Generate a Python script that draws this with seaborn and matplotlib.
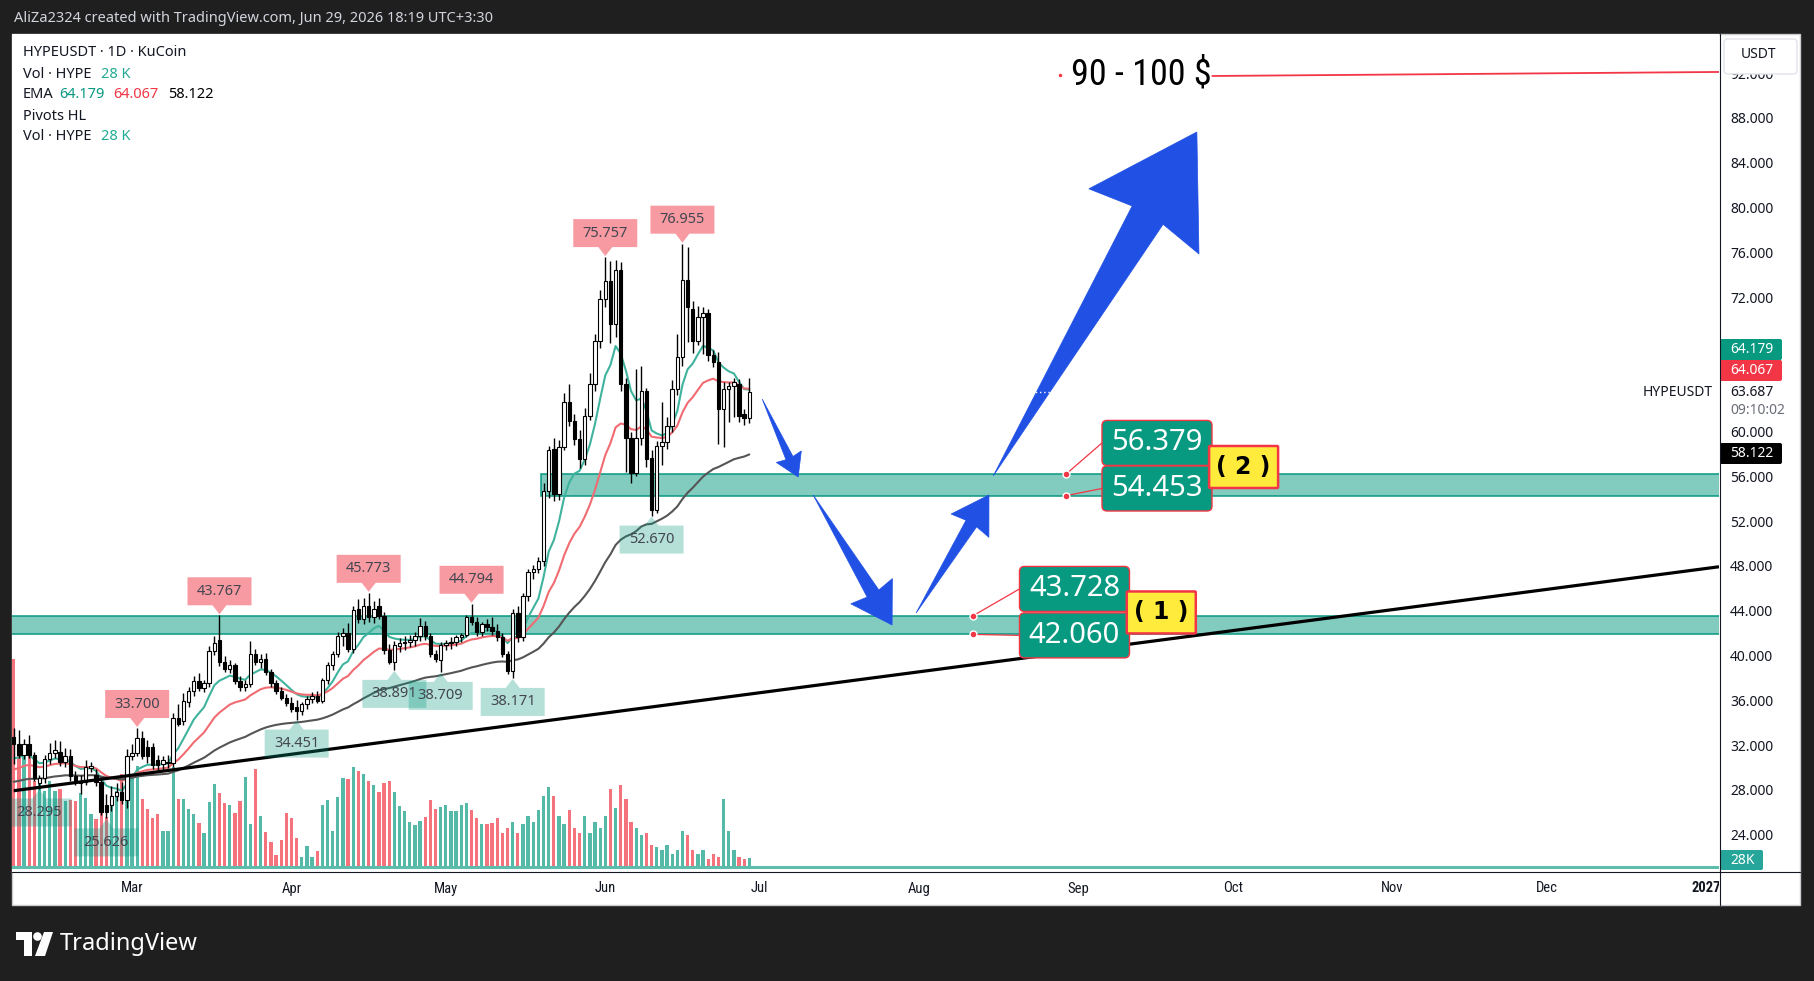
import numpy as np
import pandas as pd
import matplotlib
matplotlib.use("Agg")
import matplotlib.pyplot as plt
import matplotlib.dates as mdates
from matplotlib.patches import Polygon, FancyBboxPatch, Rectangle, Circle
from matplotlib.lines import Line2D
from matplotlib.transforms import IdentityTransform
from matplotlib import font_manager as fm
import seaborn as sns

# ============================ data ============================
first_day = "2026-02-06"

opens = [
    32.9, 32.3, 31.3, 32.3, 31.3, 28.8, 29.2, 30.9, 31.5, 31.6,
    30.7, 31.2, 29.4, 28.8, 28.9, 30.1, 29.5, 28.9, 26.8, 26.8,
    27.6, 28.0, 27.3, 31.2, 31.5, 32.8, 32.0, 32.0, 30.8, 30.5,
    30.6, 30.6, 34.6, 34.3, 36.0, 37.0, 37.9, 37.3, 37.7, 40.6,
    41.6, 39.6, 39.0, 39.3, 37.9, 37.4, 37.6, 40.3, 39.6, 39.9,
    38.7, 37.7, 37.0, 36.4, 35.9, 35.6, 35.2, 35.8, 36.3, 36.6,
    36.1, 38.0, 39.3, 40.3, 41.9, 42.2, 40.8, 44.3, 43.4, 44.6,
    43.6, 44.6, 43.7, 40.7, 39.6, 41.0, 41.3, 41.4, 41.6, 41.9,
    42.8, 41.9, 40.3, 39.8, 41.1, 41.3, 41.4, 41.8, 42.0, 43.6,
    43.2, 42.3, 43.0, 42.7, 42.4, 41.8, 40.3, 38.8, 44.0, 41.8,
    45.5, 47.6, 47.9, 48.6, 54.9, 58.6, 54.6, 58.8, 62.8, 61.1,
    59.5, 57.7, 61.6, 64.4, 68.3, 72.0, 73.6, 69.8, 74.6, 64.4,
    59.6, 56.5, 59.6, 63.8, 57.8, 53.2, 58.9, 59.2, 60.7, 64.0,
    66.8, 73.7, 71.1, 68.3, 70.4, 70.8, 67.0, 66.4, 62.2, 64.0,
    64.2, 64.4, 61.7, 61.4,
]
highs = [
    33.7, 33.5, 32.7, 33.1, 31.6, 29.5, 31.3, 32.4, 32.6, 32.5,
    31.9, 31.8, 29.9, 29.5, 30.8, 30.7, 30.0, 29.3, 27.8, 28.5,
    28.8, 28.9, 31.8, 32.3, 33.7, 33.4, 32.6, 32.4, 31.3, 31.2,
    31.3, 35.0, 35.8, 36.8, 37.4, 38.3, 38.6, 38.0, 41.0, 41.9,
    43.767, 40.1, 39.8, 39.5, 38.3, 38.0, 41.5, 40.8, 40.3, 40.4,
    39.0, 38.0, 37.4, 36.7, 36.5, 36.2, 36.0, 36.6, 36.9, 37.0,
    38.2, 39.6, 40.6, 42.3, 42.6, 43.1, 44.6, 45.2, 45.3, 45.773,
    45.0, 45.3, 44.1, 41.2, 41.5, 41.7, 41.9, 42.0, 42.3, 43.5,
    43.3, 42.2, 40.7, 41.4, 41.6, 41.8, 42.0, 42.2, 43.8, 44.794,
    43.6, 43.2, 43.4, 43.6, 43.0, 42.2, 40.6, 44.3, 44.6, 45.8,
    47.9, 48.3, 49.0, 55.6, 58.9, 59.6, 59.4, 63.6, 64.4, 61.7,
    60.3, 62.3, 65.4, 68.9, 72.8, 75.757, 75.4, 75.5, 75.3, 65.0,
    60.1, 65.8, 66.0, 64.1, 58.5, 59.3, 62.8, 61.5, 64.8, 68.9,
    76.955, 76.7, 71.8, 71.4, 71.3, 71.1, 67.5, 67.3, 64.6, 64.6,
    65.0, 64.9, 62.2, 65.0,
]
lows = [
    30.5, 31.0, 30.9, 31.0, 29.0, 28.295, 28.8, 30.5, 31.0, 30.3,
    30.2, 29.0, 28.6, 27.8, 28.6, 29.8, 28.5, 25.9, 25.626, 26.3,
    27.2, 26.9, 26.6, 30.8, 31.2, 30.9, 30.6, 30.0, 29.8, 29.9,
    30.1, 30.2, 33.9, 34.0, 35.6, 36.6, 37.0, 36.9, 37.4, 40.2,
    39.2, 38.7, 38.6, 37.6, 37.0, 37.0, 37.4, 39.3, 39.1, 38.4,
    37.4, 36.7, 36.2, 35.7, 35.1, 34.451, 34.9, 35.4, 35.9, 35.9,
    35.9, 37.6, 38.9, 40.0, 41.0, 40.5, 40.4, 43.1, 43.0, 43.2,
    43.1, 43.4, 40.3, 39.4, 38.891, 40.5, 40.7, 40.9, 41.0, 41.5,
    41.6, 40.0, 39.6, 38.709, 40.7, 40.8, 41.0, 41.4, 41.8, 42.9,
    41.9, 41.9, 42.4, 42.0, 41.5, 40.0, 38.5, 38.171, 41.4, 41.5,
    45.0, 47.0, 47.5, 48.2, 54.2, 54.0, 54.1, 58.5, 60.7, 59.0,
    56.9, 57.2, 61.2, 63.8, 67.6, 71.3, 68.1, 68.6, 63.8, 56.6,
    55.6, 56.2, 59.0, 57.0, 52.67, 52.9, 57.2, 58.6, 60.1, 63.4,
    66.0, 68.2, 67.2, 67.9, 67.1, 66.5, 65.9, 59.1, 58.8, 61.0,
    61.5, 61.0, 60.8, 60.9,
]
closes = [
    32.3, 31.3, 32.3, 31.3, 29.2, 29.2, 30.9, 31.5, 31.7, 30.7,
    31.2, 29.4, 28.9, 29.0, 30.2, 30.3, 28.9, 26.2, 26.2, 27.6,
    28.0, 27.3, 31.2, 31.5, 32.8, 31.2, 31.2, 30.4, 30.4, 30.8,
    30.7, 34.6, 34.1, 36.1, 37.0, 37.9, 37.3, 37.7, 40.6, 41.3,
    39.6, 39.0, 39.3, 37.9, 37.4, 37.6, 40.3, 39.6, 39.9, 38.7,
    37.7, 37.0, 36.4, 35.9, 35.4, 35.2, 35.8, 36.3, 36.6, 36.1,
    38.0, 39.3, 40.3, 41.9, 42.2, 40.8, 44.2, 43.4, 44.6, 43.6,
    44.3, 43.7, 40.7, 39.6, 41.1, 41.3, 41.4, 41.6, 41.9, 42.8,
    41.9, 40.3, 39.9, 41.1, 41.3, 41.4, 41.8, 42.0, 43.6, 43.2,
    42.3, 43.0, 42.7, 42.4, 41.8, 40.3, 38.8, 44.0, 41.8, 45.5,
    47.6, 47.9, 48.6, 54.9, 58.5, 54.6, 58.8, 62.8, 61.1, 59.5,
    57.7, 61.6, 64.4, 68.3, 72.0, 73.6, 69.8, 74.6, 64.4, 59.6,
    56.5, 59.6, 63.8, 57.7, 53.2, 58.9, 59.2, 60.7, 64.0, 66.8,
    73.7, 71.3, 68.3, 70.4, 70.8, 67.0, 66.4, 62.2, 64.0, 64.2,
    64.6, 61.6, 61.4, 63.687,
]
volumes_k = [
    584, 342, 319, 328, 244, 235, 216, 244, 216, 221,
    188, 190, 188, 209, 196, 151, 137, 165, 142, 193,
    216, 263, 198, 254, 286, 193, 165, 139, 151, 104,
    103, 282, 193, 193, 165, 151, 126, 97, 186, 234,
    209, 183, 176, 153, 188, 254, 123, 276, 145, 101,
    73, 35, 77, 153, 139, 83, 32, 61, 32, 47,
    176, 191, 103, 198, 252, 249, 282, 272, 262, 243,
    233, 212, 237, 243, 212, 173, 160, 128, 120, 132,
    142, 191, 165, 170, 177, 160, 160, 176, 183, 163,
    140, 123, 123, 127, 139, 97, 113, 130, 97, 123,
    146, 130, 162, 201, 227, 201, 146, 123, 162, 113,
    97, 146, 97, 130, 113, 146, 220, 168, 233, 194,
    130, 113, 91, 97, 65, 58, 49, 65, 39, 49,
    104, 91, 49, 39, 49, 26, 39, 32, 194, 104,
    49, 32, 26, 28,
]

ema_lengths = [9, 21, 60]
ema_seed = [31.0, 30.0, 28.9]           # EMA values read at the first visible candle
ema_colors = ["#3fb39d", "#f06c72", "#555555"]
ema_legend_values = ["64.179", "64.067", "58.122"]

pivot_high_dates = ["2026-03-02", "2026-03-18", "2026-04-16", "2026-05-06", "2026-06-01", "2026-06-16"]
pivot_high_values = [33.700, 43.767, 45.773, 44.794, 75.757, 76.955]
pivot_low_dates = ["2026-02-11", "2026-02-24", "2026-04-02", "2026-04-21", "2026-04-30", "2026-05-14", "2026-06-10"]
pivot_low_values = [28.295, 25.626, 34.451, 38.891, 38.709, 38.171, 52.670]

zone_lower = [42.060, 43.728]
zone_upper = [54.453, 56.379]
zone_upper_start = "2026-05-19 10:00"

trend_dates = ["2026-02-06", "2027-01-03 12:00"]
trend_prices = [28.1, 48.1]

arrow_tail_dates = ["2026-07-01 12:00", "2026-07-11 10:00", "2026-07-31 10:00", "2026-08-15 10:00"]
arrow_tail_prices = [63.08, 54.51, 43.97, 56.21]
arrow_tip_dates = ["2026-07-08 12:00", "2026-07-26 18:00", "2026-08-14 14:00", "2026-09-24 00:00"]
arrow_tip_prices = [56.12, 42.90, 54.51, 86.93]

target_text = "90 - 100 $"
target_text_date = "2026-08-30 13:00"
target_text_price = 92.02
target_line_dates = ["2026-09-27", "2027-01-03 12:00"]
target_line_prices = [91.93, 92.29]
target_dot_date = "2026-08-28 10:00"

box_texts = ["56.379", "54.453", "43.728", "42.060"]
box_dates = ["2026-09-16 06:00", "2026-09-16 06:00", "2026-08-31 05:00", "2026-08-31 05:00"]
box_prices = [59.16, 55.09, 46.12, 41.97]
box_dot_dates = ["2026-08-29 14:00", "2026-08-29 14:00", "2026-08-11 12:00", "2026-08-11 12:00"]
box_dot_prices = [56.379, 54.453, 43.728, 42.060]
tag_texts = ["( 2 )", "( 1 )"]
tag_dates = ["2026-10-03 02:00", "2026-09-17 02:00"]
tag_prices = [57.01, 44.02]

month_ticks = ["2026-03-01", "2026-04-01", "2026-05-01", "2026-06-01", "2026-07-01", "2026-08-01",
               "2026-09-01", "2026-10-01", "2026-11-01", "2026-12-01", "2027-01-01"]
month_labels = ["Mar", "Apr", "May", "Jun", "Jul", "Aug", "Sep", "Oct", "Nov", "Dec", "2027"]
price_ticks = [92, 88, 84, 80, 76, 72, 60, 56, 52, 48, 44, 40, 36, 32, 28, 24]
bold_ticks = [80, 60, 40]
last_price = 63.687
last_volume_label = "28K"
countdown = "09:10:02"
header = "AliZa2324 created with TradingView.com, Jun 29, 2026 18:19 UTC+3:30"

# ============================ style ============================
sns.set_theme(style="white")
names = {f.name for f in fm.fontManager.ttflist}
def pick(*cands):
    for c in cands:
        if c in names:
            return c
    return "DejaVu Sans"
UI = pick("Noto Sans", "Open Sans", "Roboto", "DejaVu Sans")
NARROW = pick("Liberation Sans Narrow", "Roboto Condensed", "Liberation Sans", "DejaVu Sans")
plt.rcParams["font.family"] = [UI, "DejaVu Sans"]

TEAL = "#089981"
RED = "#f23645"
INK = "#131722"
BLUE = "#2050e4"

W, H = 1814, 981
fig = plt.figure(figsize=(W / 100, H / 100), dpi=100, facecolor="#1f1f1f")

def frect(x0, y0, x1, y1):
    return [x0 / W, 1 - y1 / H, (x1 - x0) / W, (y1 - y0) / H]

def dn(s):
    return mdates.date2num(pd.Timestamp(s))

fig.patches.append(Rectangle((12 / W, 1 - 905 / H), 1788 / W, 871 / H, transform=fig.transFigure,
                             fc="white", ec="#c9cbd1", lw=1, zorder=-5))

PLOT = (12, 34, 1719, 872)
ax_v = fig.add_axes(frect(*PLOT))
ax_v.set_zorder(1)
ax = fig.add_axes(frect(*PLOT), sharex=ax_v)
ax.set_zorder(2)
ax.patch.set_alpha(0)
ax_v.set_facecolor("white")

# ============================ series ============================
dates = pd.date_range(first_day, periods=len(closes), freq="D")
xd = mdates.date2num(dates)
o = np.array(opens); h = np.array(highs); l = np.array(lows); c = np.array(closes)
up = c >= o

vol_colors = np.where(up, "#55b9a8", "#f4737d")
ax_v.bar(xd, volumes_k, width=0.64, color=vol_colors, linewidth=0, zorder=1)
ax_v.axhline(3, color="#5dbcac", lw=2.2, zorder=2)

# EMA lines
def ema(vals, n, seed):
    a = 2.0 / (n + 1)
    out = [seed]
    for v in vals[1:]:
        out.append(out[-1] + a * (v - out[-1]))
    return np.array(out)

ema_df = pd.concat([
    pd.DataFrame({"x": xd, "value": ema(closes, n, s), "line": f"EMA {n}"})
    for n, s in zip(ema_lengths, ema_seed)
])
sns.lineplot(data=ema_df, x="x", y="value", hue="line",
             palette={f"EMA {n}": col for n, col in zip(ema_lengths, ema_colors)},
             linewidth=1.5, legend=False, estimator=None, ax=ax, zorder=3)
ax.set_xlabel(""); ax.set_ylabel("")

# candles
ax.vlines(xd, l, h, color="black", lw=1.0, zorder=4)
ax.bar(xd, np.maximum(np.abs(c - o), 0.06), bottom=np.minimum(o, c), width=0.66,
       color=np.where(up, "white", "black"), edgecolor="black", linewidth=0.8, zorder=5)

# zones
far_left, far_right = dn("2025-12-01"), dn("2027-03-01")
ax.add_patch(Rectangle((far_left, zone_lower[0]), far_right - far_left, zone_lower[1] - zone_lower[0],
                       fc="#82cbbf", ec=TEAL, lw=1.1, zorder=2))
ax.add_patch(Rectangle((dn(zone_upper_start), zone_upper[0]), far_right - dn(zone_upper_start),
                       zone_upper[1] - zone_upper[0], fc="#82cbbf", ec=TEAL, lw=1.1, zorder=2))

# trend line
ax.plot([dn(d) for d in trend_dates], trend_prices, color="black", lw=2.3, zorder=6,
        solid_capstyle="butt")

# target line
ax.plot([dn(d) for d in target_line_dates], target_line_prices, color=RED, lw=1.3, zorder=6)
ax.plot([dn(target_dot_date)], [target_text_price], marker="o", ms=1.5, color=RED, zorder=6)

# limits
ax_v.set_xlim(dn("2026-02-05 16:00"), dn("2027-01-03 12:00"))
ax.set_ylim(20.84, 95.68)
ax_v.set_ylim(-11.2, 2335)
for a in (ax_v, ax):
    for s in a.spines.values():
        s.set_visible(False)
    a.set_xticks([]); a.set_yticks([])

ID = IdentityTransform()

# price line after last candle (dotted, white)
ax.plot([xd[-1] + 0.5, far_right], [last_price, last_price], color="white", lw=1.0,
        ls=(0, (1, 2)), zorder=7.5)

# ---------------- arrows (TradingView style tapered arrows) ----------------
def tv_arrow(tail, tip):
    T = np.array(ax.transData.transform(tail))
    P = np.array(ax.transData.transform(tip))
    v = P - T
    L = np.hypot(*v)
    u = v / L
    n = np.array([-u[1], u[0]])
    hl, hw, sw = 0.26 * L, 0.16 * L, 0.045 * L
    pts = [T, P - u * hl * 0.93 + n * sw, P - u * hl + n * hw, P,
           P - u * hl - n * hw, P - u * hl * 0.93 - n * sw]
    ax.add_patch(Polygon(pts, closed=True, fc=BLUE, ec=BLUE, lw=0.5, transform=ID, zorder=7))

for td, tp, pd_, pp in zip(arrow_tail_dates, arrow_tail_prices, arrow_tip_dates, arrow_tip_prices):
    tv_arrow((dn(td), tp), (dn(pd_), pp))

# ---------------- pivot labels ----------------
def pivot_label(date, price, text, high):
    X, Y = ax.transData.transform((dn(date), price))
    w, hh, gap, tw = 64, 28, 9, 7
    if high:
        tipY = Y + 1; b = tipY + gap; t = b + hh
        pts = [(X, tipY), (X + tw, b), (X + w / 2, b), (X + w / 2, t), (X - w / 2, t), (X - w / 2, b), (X - tw, b)]
        fc = (242 / 255, 54 / 255, 69 / 255, 0.5)
    else:
        tipY = Y - 1; t = tipY - gap; b = t - hh
        pts = [(X, tipY), (X - tw, t), (X - w / 2, t), (X - w / 2, b), (X + w / 2, b), (X + w / 2, t), (X + tw, t)]
        fc = (8 / 255, 153 / 255, 129 / 255, 0.3)
    ax.add_patch(Polygon(pts, closed=True, fc=fc, ec="none", transform=ID, zorder=8))
    ax.text(X, (b + t) / 2, text, transform=ID, ha="center", va="center", fontsize=10.5,
            color="#434651", zorder=9)

for d, v in zip(pivot_high_dates, pivot_high_values):
    pivot_label(d, v, f"{v:.3f}", True)
for d, v in zip(pivot_low_dates, pivot_low_values):
    pivot_label(d, v, f"{v:.3f}", False)

# ---------------- value boxes / tags ----------------
def px_box(date, price, w, hh, fc, ec, lw, r):
    X, Y = ax.transData.transform((dn(date), price))
    ax.add_patch(FancyBboxPatch((X - w / 2, Y - hh / 2), w, hh, boxstyle=f"round,pad=0,rounding_size={r}",
                                fc=fc, ec=ec, lw=lw, transform=ID, zorder=9))
    return X, Y

for i, (t, d, p) in enumerate(zip(box_texts, box_dates, box_prices)):
    w = 110
    X, Y = px_box(d, p, w, 45, TEAL, RED, 1.0, 5)
    ax.text(X, Y, t, transform=ID, ha="center", va="center", fontsize=21, color="white", zorder=10)
    DX, DY = ax.transData.transform((dn(box_dot_dates[i]), box_dot_prices[i]))
    ax.add_line(Line2D([DX, X - w / 2], [DY, Y], transform=ID, color=RED, lw=0.9, zorder=8))
    ax.plot([DX], [DY], marker="o", ms=5, mfc=RED, mec="white", mew=1.0, transform=ID, zorder=8.5)

for t, d, p in zip(tag_texts, tag_dates, tag_prices):
    X, Y = px_box(d, p, 69, 42, "#ffeb3b", RED, 1.8, 1)
    ax.text(X, Y, t, transform=ID, ha="center", va="center", fontsize=17, fontweight="bold",
            family=["DejaVu Sans"], color="black", zorder=10)

ax.text(dn(target_text_date), target_text_price, target_text, ha="left", va="center",
        fontsize=26, color="black", family=[NARROW, "DejaVu Sans"], zorder=9)

# ============================ price axis ============================
ax_p = fig.add_axes(frect(1719, 34, 1800, 872))
ax_p.set_zorder(3)
ax_p.set_xlim(1719, 1800)
ax_p.set_ylim(20.84, 95.68)
ax_p.patch.set_alpha(0)
for s in ax_p.spines.values():
    s.set_visible(False)
ax_p.set_xticks([]); ax_p.set_yticks([])
for v in price_ticks:
    ax_p.text(1730, v, f"{v:.3f}", ha="left", va="center", fontsize=10, color=INK,
              fontweight="bold" if v in bold_ticks else "normal", zorder=2)

def badge(ypx, text, fc, tc, w=62, hh=21):
    ax_p.add_patch(FancyBboxPatch((1720, H - ypx - hh / 2), w, hh, boxstyle="round,pad=0,rounding_size=2",
                                  fc=fc, ec="none", transform=ID, zorder=5))
    ax_p.text(1730, H - ypx, text, transform=ID, ha="left", va="center", fontsize=10, color=tc, zorder=6)

ax_p.add_patch(FancyBboxPatch((1724, H - 74), 73, 35, boxstyle="round,pad=0,rounding_size=4",
                              fc="white", ec="#e0e3eb", lw=1, transform=ID, zorder=5))
ax_p.text(1758, H - 55, "USDT", transform=ID, ha="center", va="center", fontsize=10, color=INK, zorder=6)
badge(349.5, ema_legend_values[0], TEAL, "white")
badge(370.5, ema_legend_values[1], RED, "white")
badge(453.5, ema_legend_values[2], "black", "white")
badge(860, last_volume_label, "#26a69a", "white", w=43, hh=20)
ax_p.text(1730, last_price, f"{last_price:.3f}", ha="left", va="center", fontsize=10, color=INK, zorder=6)
ax_p.text(1730, H - 410, countdown, transform=ID, ha="left", va="center", fontsize=10, color="#6a6d78", zorder=6)
fig.text(1713 / W, 1 - 393 / H, "HYPEUSDT", ha="right", va="center", fontsize=10, color=INK)

# ============================ time axis ============================
ax_t = fig.add_axes(frect(12, 872, 1719, 905))
ax_t.set_xlim(dn("2026-02-05 16:00"), dn("2027-01-03 12:00"))
ax_t.set_ylim(0, 1)
ax_t.patch.set_alpha(0)
for s in ax_t.spines.values():
    s.set_visible(False)
ax_t.set_xticks([]); ax_t.set_yticks([])
for d, lab in zip(month_ticks, month_labels):
    tt = ax_t.text(dn(d), 0.5, lab, ha="center", va="center", fontsize=10.5, color=INK,
                   family=[NARROW, "DejaVu Sans"], fontweight="bold" if lab.isdigit() else "normal",
                   clip_on=True)
    tt.set_clip_box(ax_t.bbox)
fig.patches.append(Rectangle((1720 / W, 1 - 904 / H), 79 / W, 31 / H, transform=fig.transFigure,
                             fc="white", ec="none", zorder=5))

# separators
fig.lines.append(Line2D([1719.5 / W, 1719.5 / W], [1 - 34 / H, 1 - 905 / H], transform=fig.transFigure,
                        color=INK, lw=0.8, zorder=10))
fig.lines.append(Line2D([12 / W, 1800 / W], [1 - 872 / H, 1 - 872 / H], transform=fig.transFigure,
                        color=INK, lw=0.8, zorder=10))

# ============================ legend / header / footer ============================
def ftext(x, y, s, **kw):
    kw.setdefault("fontsize", 10.5)
    kw.setdefault("color", INK)
    fig.text(x / W, 1 - y / H, s, va="center", ha="left", **kw)

ftext(14, 18, header, color="#d1d4dc", fontsize=10.5)
ftext(23, 53, "HYPEUSDT · 1D · KuCoin")
ftext(23, 74, "Vol · HYPE"); ftext(101, 74, "28 K", color="#22ab94")
ftext(23, 95, "EMA")
ftext(59, 95, ema_legend_values[0], color=TEAL)
ftext(113, 95, ema_legend_values[1], color=RED)
ftext(168, 95, ema_legend_values[2], color="black")
ftext(23, 116, "Pivots HL")
ftext(23, 137, "Vol · HYPE"); ftext(101, 137, "28 K", color="#22ab94")

# TradingView logo
def fy(y):
    return H - y
fig.patches.append(Polygon([(16, fy(932)), (32, fy(932)), (32, fy(956)), (24, fy(956)), (24, fy(940)), (16, fy(940))],
                           closed=True, fc="white", ec="none", transform=ID, zorder=5))
fig.patches.append(Circle((37.5, fy(936.5)), 4.3, fc="white", ec="none", transform=ID, zorder=5))
fig.patches.append(Polygon([(44, fy(932)), (53, fy(932)), (45, fy(956)), (35, fy(956))],
                           closed=True, fc="white", ec="none", transform=ID, zorder=5))
ftext(60, 944, "TradingView", color="white", fontsize=17, fontweight="bold")

fig.savefig("out.png", dpi=100, facecolor=fig.get_facecolor())
